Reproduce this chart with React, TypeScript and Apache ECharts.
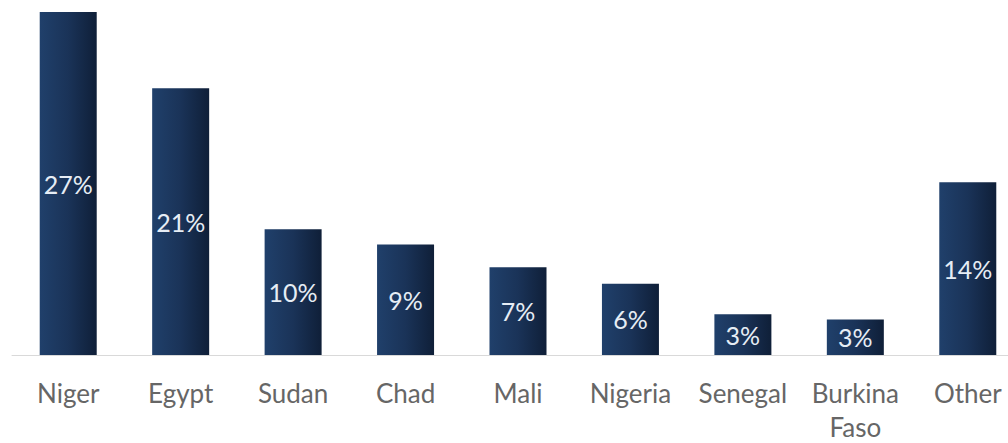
import React, { useEffect, useRef } from "react";
import * as echarts from "echarts";

const categories = ["Niger", "Egypt", "Sudan", "Chad", "Mali", "Nigeria", "Senegal", "Burkina\nFaso", "Other"];
const values = [27.0, 21.0, 9.9, 8.7, 6.9, 5.6, 3.2, 2.8, 13.6];
const labels = ["27%", "21%", "10%", "9%", "7%", "6%", "3%", "3%", "14%"];

export default function App() {
  const ref = useRef<HTMLDivElement>(null);
  useEffect(() => {
    const chart = echarts.init(ref.current!, null, { renderer: "svg" });
    chart.setOption({
      animation: false,
      backgroundColor: "#ffffff",
      grid: {
        left: 12,
        width: 1012,
        top: 12,
        bottom: 88,
        containLabel: false,
        outerBoundsMode: "none",
      },
      xAxis: {
        type: "category",
        data: categories,
        axisLine: { lineStyle: { color: "#d9d9d9", width: 1 } },
        axisTick: { show: false },
        axisLabel: {
          color: "#666666",
          fontFamily: "Lato",
          fontSize: 26,
          margin: 21,
          lineHeight: 34,
          interval: 0,
        },
      },
      yAxis: {
        type: "value",
        min: 0,
        max: 27,
        show: false,
        splitLine: { show: false },
      },
      series: [
        {
          type: "bar",
          data: values,
          barWidth: 57,
          itemStyle: {
            color: new echarts.graphic.LinearGradient(0, 0, 1, 0, [
              { offset: 0, color: "#20406b" },
              { offset: 0.5, color: "#1a3358" },
              { offset: 1, color: "#0f1f38" },
            ]),
          },
          label: {
            show: true,
            position: "inside",
            color: "#e6edf5",
            fontFamily: "Lato",
            fontSize: 25,
            formatter: (p: any) => labels[p.dataIndex],
          },
        },
      ],
    });
    return () => chart.dispose();
  }, []);
  return <div ref={ref} style={{ position: "absolute", left: 0, top: 0, width: 1008, height: 443 }} />;
}
